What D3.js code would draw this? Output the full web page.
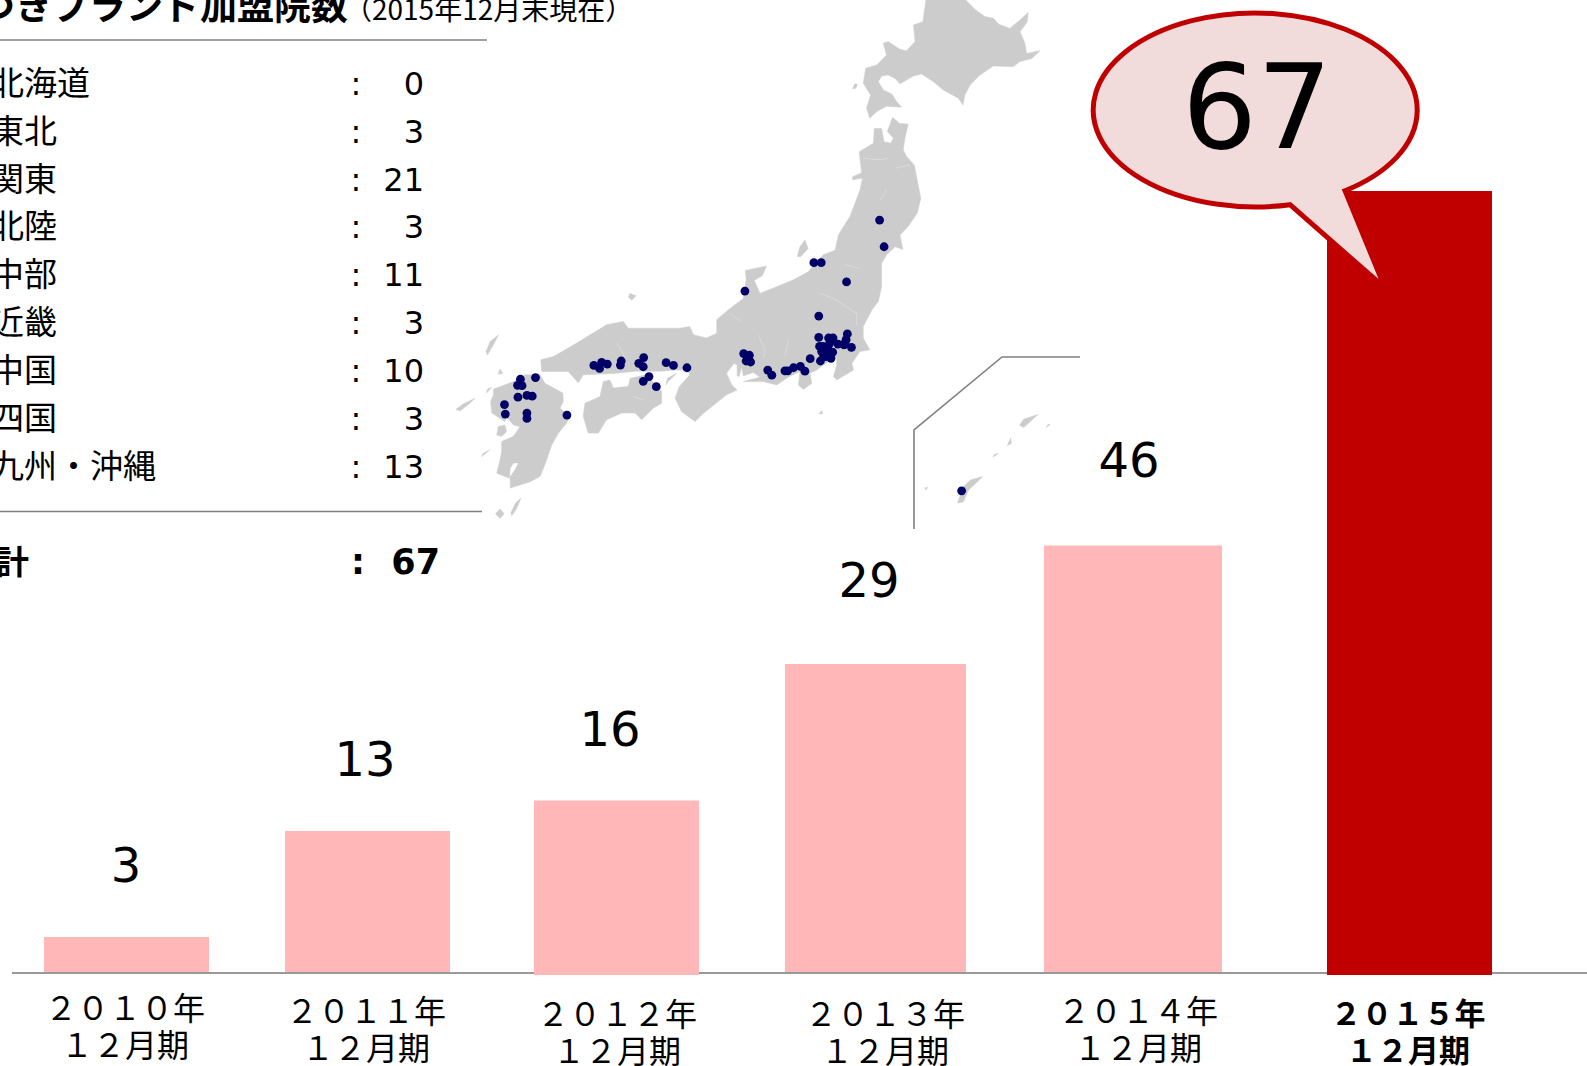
<!DOCTYPE html>
<html>
<head>
<meta charset="utf-8">
<script src="https://cdn.jsdelivr.net/npm/d3@7"></script>
<style>
  html, body { margin: 0; padding: 0; background: #fff; overflow: hidden; }
  text { fill: #000; }
</style>
</head>
<body>
<div id="chart"></div>
<script>
// bar chart data
var years = ["２０１０年", "２０１１年", "２０１２年", "２０１３年", "２０１４年", "２０１５年"];
var monthLabel = "１２月期";
var clinicCounts = [3, 13, 16, 29, 46, 67];

// table data
var regions = ["北海道", "東北", "関東", "北陸", "中部", "近畿", "中国", "四国", "九州・沖縄"];
var regionCounts = [0, 3, 21, 3, 11, 3, 10, 3, 13];
var totalLabel = "合計";
var totalCount = 67;

// map shapes, traced in map units (0-1568 both ways)
var hokkaido = [[1191,-5],[1284,-5],[1311,28],[1335,49],[1356,54],[1368,71],[1396,84],[1421,59],[1441,37],[1439,64],[1421,94],[1433,128],[1437,158],[1470,150],[1450,173],[1421,182],[1405,197],[1388,197],[1356,195],[1323,222],[1299,251],[1286,281],[1281,311],[1270,291],[1233,266],[1209,242],[1180,219],[1160,225],[1127,248],[1115,232],[1098,222],[1082,225],[1074,242],[1086,266],[1107,278],[1119,301],[1131,317],[1094,314],[1070,330],[1053,350],[1045,320],[1055,281],[1037,246],[1043,202],[1070,192],[1094,163],[1086,128],[1098,123],[1127,146],[1143,150],[1164,123],[1160,74],[1183,64],[1188,20]];
var honshu = [[1064,380],[1082,380],[1088,419],[1104,424],[1111,409],[1096,389],[1109,347],[1125,365],[1147,367],[1139,409],[1135,444],[1143,463],[1162,488],[1169,532],[1178,587],[1169,631],[1147,670],[1127,695],[1134,738],[1115,730],[1094,754],[1082,779],[1082,848],[1074,892],[1058,917],[1037,966],[1037,1001],[1053,1035],[1029,1040],[1009,1075],[1013,1095],[972,1124],[964,1114],[972,1080],[972,1055],[939,1080],[923,1095],[906,1104],[911,1134],[890,1152],[878,1139],[882,1099],[853,1116],[825,1139],[792,1129],[743,1129],[784,1116],[768,1102],[743,1112],[739,1085],[733,1114],[728,1112],[728,1080],[720,1075],[702,1104],[715,1139],[728,1154],[702,1168],[645,1223],[625,1247],[592,1218],[576,1178],[586,1144],[612,1109],[608,1094],[580,1095],[539,1098],[480,1098],[425,1105],[351,1109],[339,1133],[314,1099],[249,1099],[247,1064],[278,1055],[335,1015],[408,961],[449,951],[461,971],[523,971],[588,971],[612,966],[621,990],[653,1000],[678,986],[678,946],[706,917],[743,883],[750,828],[748,800],[800,787],[790,815],[770,830],[784,868],[825,848],[866,828],[902,804],[939,754],[968,740],[976,695],[1004,641],[1017,601],[1029,562],[1035,527],[1011,532],[1011,523],[1033,511],[1027,449],[1062,424]];
var shikoku = [[355,1193],[392,1173],[400,1129],[416,1124],[425,1148],[461,1143],[466,1119],[506,1109],[543,1158],[543,1193],[523,1207],[494,1242],[478,1222],[445,1222],[408,1242],[388,1281],[363,1281],[351,1232]];
var kyushu = [[131,1151],[147,1144],[180,1129],[208,1109],[245,1109],[257,1134],[286,1153],[301,1163],[302,1188],[294,1208],[319,1232],[310,1252],[290,1282],[274,1316],[257,1375],[245,1410],[221,1425],[172,1444],[172,1410],[184,1390],[192,1370],[180,1370],[172,1385],[170,1415],[139,1400],[147,1361],[151,1336],[151,1306],[180,1291],[196,1262],[180,1257],[163,1234],[159,1247],[127,1222],[124,1188],[131,1168]];
var islands = [
  [[894,710],[902,735],[884,759],[875,759],[882,730]],        // sado
  [[580,1104],[559,1129],[554,1139],[557,1119]],              // awaji
  [[143,991],[131,1020],[116,1050],[113,1040],[123,1010]],    // tsushima
  [[465,868],[480,875],[470,888],[462,880]],                  // oki
  [[86,1178],[73,1193],[49,1216],[39,1211],[57,1195]],        // goto
  [[198,1474],[188,1504],[176,1526],[174,1516],[185,1489]],   // tanegashima
  [[147,1506],[157,1520],[147,1534],[136,1520]],              // yakushima
  [[147,1092],[154,1104],[143,1107]],                         // iki
  [[116,1151],[127,1146],[114,1163]],
  [[1016,248],[1023,250],[1018,262],[1011,262]],
  [[143,1262],[159,1257],[163,1277],[151,1291],[139,1287]],   // amakusa
  [[122,1331],[102,1351],[106,1341]],
  [[935,1215],[938,1224],[928,1224]],
  [[1330,1410],[1295,1450],[1282,1485],[1268,1488],[1282,1440],[1300,1420]], // okinawa
  [[1465,1226],[1430,1265],[1420,1258],[1430,1240]],          // amami
  [[1398,1296],[1400,1312],[1390,1318]],
  [[1495,1256],[1485,1265],[1490,1255]],
  [[1368,1342],[1355,1352],[1358,1344]],
  [[1195,1442],[1190,1450],[1188,1443]]
];
// faint prefecture borders
var borders = [
  [[1037,468],[1078,473],[1098,468]],
  [[1115,498],[1152,488]],
  [[1078,592],[1094,562]],
  [[992,784],[1029,794]],
  [[711,927],[739,952]],
  [[780,991],[796,1036],[792,1060]],
  [[853,1006],[845,1055]],
  [[931,868],[964,883],[1021,927],[1021,962]],
  [[433,1015],[453,1055]],
  [[474,1173],[498,1183]]
];
// clinic locations in the same map units
var clinics = [[1077,651],[1088,730],[916,777],[934,777],[996,834],[747,861],[928,935],[928,998],[998,988],[952,1000],[963,1000],[995,1005],[975,1018],[990,1020],[1008,1028],[992,1015],[930,1025],[938,1025],[950,1025],[955,1015],[935,1040],[948,1040],[962,1042],[958,1060],[945,1055],[932,1068],[907,1061],[940,1050],[744,1046],[758,1051],[750,1068],[761,1071],[803,1095],[813,1110],[845,1097],[852,1097],[866,1088],[883,1084],[894,1098],[605,1088],[572,1081],[554,1073],[499,1058],[487,1075],[498,1085],[444,1068],[442,1080],[410,1077],[396,1072],[391,1090],[377,1081],[512,1114],[498,1128],[530,1144],[234,1117],[197,1122],[190,1140],[201,1141],[191,1175],[213,1170],[226,1172],[158,1197],[160,1225],[213,1222],[213,1238],[311,1228],[1278,1452]];

var width = 1587, height = 1066;
var svg = d3.select("#chart").append("svg")
  .attr("width", width)
  .attr("height", height)
  .style("display", "block");

var cjk = "'Noto Sans CJK JP'";
var latin = "'DejaVu Sans','Noto Sans CJK JP'";

drawMap();
drawTable();
drawBars();
drawCallout();

function drawMap(){
  var mapX = d3.scaleLinear().domain([0, 1568]).range([440, 1080]);
  var mapY = d3.scaleLinear().domain([0, 1568]).range([0, 530]);
  var projection = d3.geoTransform({
    point: function(x, y){ this.stream.point(mapX(x), mapY(y)); }
  });
  var path = d3.geoPath(projection);
  var shapes = [hokkaido, honshu, shikoku, kyushu].concat(islands);

  svg.append("g").selectAll("path")
    .data(shapes)
    .enter()
    .append("path")
    .attr("d", function(d){
      return path({type: "LineString", coordinates: d.concat([d[0]])});
    })
    .attr("fill", "#cccccc")
    .attr("stroke", "#cccccc")
    .attr("stroke-width", 0.5)
    .attr("stroke-linejoin", "round");

  svg.append("g").selectAll("path")
    .data(borders)
    .enter()
    .append("path")
    .attr("d", function(d){
      return path({type: "LineString", coordinates: d});
    })
    .attr("fill", "none")
    .attr("stroke", "#ffffff")
    .attr("stroke-opacity", 0.35)
    .attr("stroke-width", 0.8);

  svg.append("g").selectAll("circle")
    .data(clinics)
    .enter()
    .append("circle")
    .attr("cx", function(d){ return mapX(d[0]); })
    .attr("cy", function(d){ return mapY(d[1]); })
    .attr("r", 4.4)
    .attr("fill", "#000066");

  // leader to the okinawa inset
  svg.append("path")
    .attr("d", d3.line()([[1080, 357], [1002, 357], [914, 430], [914, 529]]))
    .attr("fill", "none")
    .attr("stroke", "#808080")
    .attr("stroke-width", 1.6);
}

function drawTable(){
  svg.append("text")
    .attr("x", -22).attr("y", 20)
    .style("font-family", cjk)
    .style("font-weight", "bold")
    .style("font-size", "37px")
    .text("つきブランド加盟院数");

  svg.append("text")
    .attr("x", 344).attr("y", 20)
    .style("font-family", cjk)
    .style("font-size", "28px")
    .text("（2015年12月末現在）");

  var rules = [[40, 487], [511.5, 482]];
  svg.selectAll("line.rule")
    .data(rules)
    .enter()
    .append("line")
    .attr("class", "rule")
    .attr("x1", 0)
    .attr("x2", function(d){ return d[1]; })
    .attr("y1", function(d){ return d[0]; })
    .attr("y2", function(d){ return d[0]; })
    .attr("stroke", "#808080")
    .attr("stroke-width", 1.5);

  var rowY = d3.scalePoint().domain(regions).range([95, 477.5]);

  var row = svg.append("g").selectAll("g")
    .data(regions)
    .enter()
    .append("g")
    .attr("transform", function(d){ return "translate(0," + rowY(d) + ")"; });

  row.append("text")
    .attr("x", -9)
    .style("font-family", cjk)
    .style("font-size", "33px")
    .text(function(d){ return d; });

  row.append("text")
    .attr("x", 356).attr("text-anchor", "middle")
    .style("font-family", latin)
    .style("font-size", "32px")
    .text(":");

  row.append("text")
    .attr("x", 424).attr("text-anchor", "end")
    .style("font-family", latin)
    .style("font-size", "32px")
    .text(function(d, i){ return regionCounts[i]; });

  svg.append("text")
    .attr("x", -37).attr("y", 574)
    .style("font-family", cjk)
    .style("font-weight", "bold")
    .style("font-size", "33px")
    .text(totalLabel);
  svg.append("text")
    .attr("x", 358).attr("y", 574).attr("text-anchor", "middle")
    .style("font-family", latin)
    .style("font-weight", "bold")
    .style("font-size", "35px")
    .text(":");
  svg.append("text")
    .attr("x", 440).attr("y", 574).attr("text-anchor", "end")
    .style("font-family", latin)
    .style("font-weight", "bold")
    .style("font-size", "35px")
    .text(totalCount);
}

function drawBars(){
  var baseY = 973;
  // the bars in the source slide are placed by hand, so these scales are not evenly spaced
  var y = d3.scaleLinear()
    .domain([0].concat(clinicCounts))
    .range([baseY, 937, 831, 800.5, 664, 545.5, 191]);
  var x0 = d3.scaleOrdinal().domain(years).range([44, 285, 534, 785, 1044, 1327]);
  var x1 = d3.scaleOrdinal().domain(years).range([209, 450, 699, 966, 1222, 1492]);
  var bottom = d3.scaleOrdinal().domain(years).range([972, 972, 975, 972, 972, 975]);
  var labelX = d3.scaleOrdinal().domain(years).range([125, 366, 617, 885, 1138, 1408]);
  var labelY = d3.scaleOrdinal().domain(years).range([1020, 1023, 1026, 1026, 1023, 1025]);
  var valueX = d3.scaleOrdinal().domain(years).range([126, 365, 610, 869, 1129, 0]);
  var valueY = d3.scaleOrdinal().domain(years).range([882, 776, 746, 597, 477, 0]);

  svg.append("line")
    .attr("x1", 12).attr("x2", width)
    .attr("y1", baseY).attr("y2", baseY)
    .attr("stroke", "#999999")
    .attr("stroke-width", 2);

  var bar = svg.append("g").selectAll("g")
    .data(years)
    .enter()
    .append("g");

  bar.append("rect")
    .attr("x", function(d){ return x0(d); })
    .attr("width", function(d){ return x1(d) - x0(d); })
    .attr("y", function(d, i){ return y(clinicCounts[i]); })
    .attr("height", function(d, i){ return bottom(d) - y(clinicCounts[i]); })
    .attr("fill", function(d, i){ return i == years.length - 1 ? "#c00000" : "#ffb7b7"; });

  bar.filter(function(d, i){ return i < years.length - 1; })
    .append("text")
    .attr("x", function(d){ return valueX(d); })
    .attr("y", function(d){ return valueY(d); })
    .attr("text-anchor", "middle")
    .style("font-family", latin)
    .style("font-size", "48px")
    .text(function(d){ return clinicCounts[years.indexOf(d)]; });

  var label = bar.append("text")
    .attr("text-anchor", "middle")
    .style("font-family", cjk)
    .style("font-size", function(d, i){ return i == years.length - 1 ? "31px" : "32px"; })
    .style("font-weight", function(d, i){ return i == years.length - 1 ? "bold" : "normal"; });
  label.append("tspan")
    .attr("x", function(d){ return labelX(d); })
    .attr("y", function(d){ return labelY(d); })
    .text(function(d){ return d; });
  label.append("tspan")
    .attr("x", function(d){ return labelX(d); })
    .attr("y", function(d){ return labelY(d) + 37; })
    .text(monthLabel);
}

function drawCallout(){
  // balloon with its tail pointing into the 2015 bar
  svg.append("path")
    .attr("d", "M1345,190.7 A162,97 0 1 0 1290,204.7 L1385,288 Z")
    .attr("fill", "#f2dcdb")
    .attr("stroke", "#c00000")
    .attr("stroke-width", 5)
    .attr("stroke-linejoin", "miter");

  svg.append("text")
    .attr("x", 1257).attr("y", 148)
    .attr("text-anchor", "middle")
    .style("font-family", latin)
    .style("font-size", "118px")
    .text(clinicCounts[clinicCounts.length - 1]);
}
</script>
</body>
</html>
